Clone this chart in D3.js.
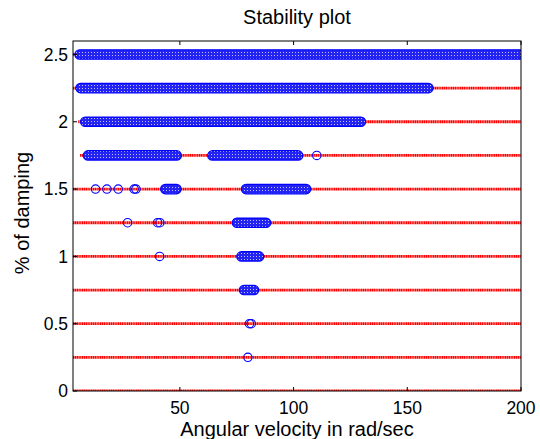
<!DOCTYPE html>
<meta charset="utf-8">
<html>
<head>
<title>Stability plot</title>
<script src="https://d3js.org/d3.v7.min.js"></script>
<style>
  body { margin: 0; background: #fff; font-family: "Liberation Sans", Arial, Helvetica, sans-serif; }
  text { fill: #000; }
</style>
</head>
<body>
<script>
// damping levels (%) swept, and the angular velocity range each was swept over
var dampingLevels = [0, 0.25, 0.5, 0.75, 1, 1.25, 1.5, 1.75, 2, 2.25, 2.5];
var sweepStart    = [3, 3, 3, 3, 3, 3, 3, 6.1, 5.3, 3, 3];
var sweepEnd      = [200, 200, 200, 200, 200, 200, 200, 200, 200, 200, 200];

// continuous stable ranges (dense markers)
var bandDamping = [2.5, 2.25, 2.0, 1.75, 1.75, 1.5, 1.5, 1.25, 1.0, 0.75];
var bandFrom    = [5.9, 6.3, 8.4, 9.6, 64.3, 43.6, 79.1, 75.1, 77.1, 78.2];
var bandTo      = [200, 159.3, 129.6, 48.6, 102, 48.5, 105.5, 87.9, 84.8, 82.6];

// isolated stable points
var pointDamping = [1.75, 1.5, 1.5, 1.5, 1.5, 1.5, 1.25, 1.25, 1.25, 1.0, 0.5, 0.5, 0.25];
var pointOmega   = [110.2, 12.9, 17.9, 22.9, 29.9, 30.7, 27.0, 40.2, 41.2, 41.1, 80.6, 81.4, 79.9];

var xTicks = [50, 100, 150, 200];
var yTicks = [0, 0.5, 1, 1.5, 2, 2.5];

var width = 540, height = 439;
var margin = {left: 73, right: 19, top: 41, bottom: 48};

var svg = d3.select("body").append("svg")
    .attr("width", width)
    .attr("height", height);

var x = d3.scaleLinear().domain([3, 200]).range([margin.left, width - margin.right]);
var y = d3.scaleLinear().domain([0, 2.6]).range([height - margin.bottom, margin.top]);

// texture for the dense marker bands
var defs = svg.append("defs");
var pat = defs.append("pattern")
    .attr("id", "dense")
    .attr("patternUnits", "userSpaceOnUse")
    .attr("width", 3).attr("height", 3);
pat.append("rect").attr("width", 3).attr("height", 3).attr("fill", "#2424f2");
pat.append("rect").attr("x", 1).attr("y", 1).attr("width", 1).attr("height", 1).attr("fill", "#c0c0ff");

defs.append("clipPath").attr("id", "clip")
  .append("rect")
    .attr("x", margin.left).attr("y", margin.top)
    .attr("width", width - margin.left - margin.right)
    .attr("height", height - margin.top - margin.bottom);

var plot = svg.append("g").attr("clip-path", "url(#clip)");

// red sweep lines
plot.selectAll("line.sweep")
    .data(dampingLevels)
  .enter().append("line")
    .attr("class", "sweep")
    .attr("x1", function(d, i) { return x(sweepStart[i]); })
    .attr("x2", function(d, i) { return x(sweepEnd[i]); })
    .attr("y1", function(d) { return y(d); })
    .attr("y2", function(d) { return y(d); })
    .attr("stroke", "#ff0000")
    .attr("stroke-width", 2.8)
    .attr("stroke-dasharray", "1.4,0.4");

// blue bands
var r = 4.7;
plot.selectAll("rect.band")
    .data(bandDamping)
  .enter().append("rect")
    .attr("class", "band")
    .attr("x", function(d, i) { return x(bandFrom[i]) - r; })
    .attr("width", function(d, i) { return x(bandTo[i]) - x(bandFrom[i]) + 2 * r; })
    .attr("y", function(d) { return y(d) - r; })
    .attr("height", 2 * r)
    .attr("rx", r).attr("ry", r)
    .attr("fill", "url(#dense)")
    .attr("stroke", "#0000ff")
    .attr("stroke-width", 1.2);

// isolated circles
plot.selectAll("circle.pt")
    .data(pointDamping)
  .enter().append("circle")
    .attr("class", "pt")
    .attr("cx", function(d, i) { return x(pointOmega[i]); })
    .attr("cy", function(d) { return y(d); })
    .attr("r", 4.2)
    .attr("fill", "none")
    .attr("stroke", "#0000ff")
    .attr("stroke-width", 1.1);

// axes box
var x0 = margin.left, x1 = width - margin.right, y0 = margin.top, y1 = height - margin.bottom;
svg.append("rect")
    .attr("x", x0).attr("y", y0)
    .attr("width", x1 - x0).attr("height", y1 - y0)
    .attr("fill", "none").attr("stroke", "#000").attr("stroke-width", 1);

// ticks inside, MATLAB style
var tickLen = 4;
svg.selectAll("line.xt")
    .data(xTicks)
  .enter().append("line")
    .attr("x1", function(d) { return x(d); }).attr("x2", function(d) { return x(d); })
    .attr("y1", y1).attr("y2", y1 - tickLen)
    .attr("stroke", "#000");
svg.selectAll("line.xtt")
    .data(xTicks)
  .enter().append("line")
    .attr("x1", function(d) { return x(d); }).attr("x2", function(d) { return x(d); })
    .attr("y1", y0).attr("y2", y0 + tickLen)
    .attr("stroke", "#000");
svg.selectAll("line.yt")
    .data(yTicks)
  .enter().append("line")
    .attr("x1", x0).attr("x2", x0 + tickLen)
    .attr("y1", function(d) { return y(d); }).attr("y2", function(d) { return y(d); })
    .attr("stroke", "#000");

// tick labels
svg.selectAll("text.xl")
    .data(xTicks)
  .enter().append("text")
    .attr("x", function(d) { return x(d); })
    .attr("y", 413.5)
    .attr("text-anchor", "middle")
    .style("font-size", "17.5px")
    .text(function(d) { return d; });
svg.selectAll("text.yl")
    .data(yTicks)
  .enter().append("text")
    .attr("x", x0 - 5)
    .attr("y", function(d) { return y(d) + 6.2; })
    .attr("text-anchor", "end")
    .style("font-size", "17.5px")
    .text(function(d) { return d; });

// titles
svg.append("text")
    .attr("x", (x0 + x1) / 2).attr("y", 24)
    .attr("text-anchor", "middle")
    .style("font-size", "20px")
    .text("Stability plot");
svg.append("text")
    .attr("x", (x0 + x1) / 2).attr("y", 436)
    .attr("text-anchor", "middle")
    .style("font-size", "20px")
    .text("Angular velocity in rad/sec");
svg.append("text")
    .attr("transform", "translate(29," + ((y0 + y1) / 2 - 3) + ") rotate(-90)")
    .attr("text-anchor", "middle")
    .style("font-size", "20px")
    .text("% of damping");
</script>
</body>
</html>
